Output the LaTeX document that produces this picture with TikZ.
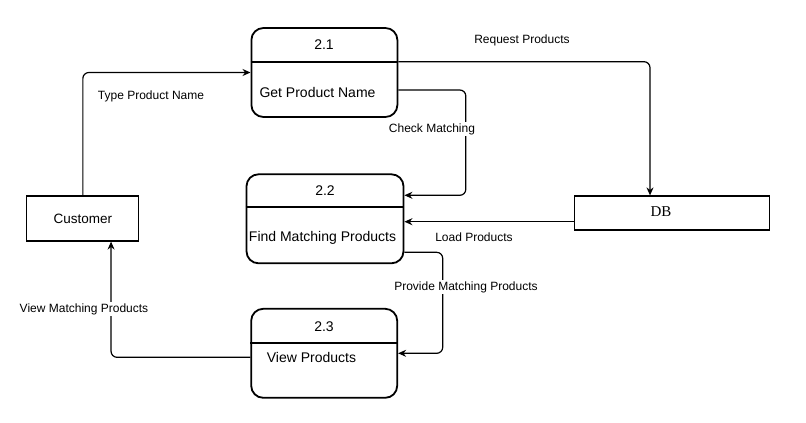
\documentclass[tikz,border=0pt]{standalone}
\usepackage{fontspec}
\setmainfont{Liberation Sans}
\newfontfamily\dbfont{Liberation Serif}
\usetikzlibrary{arrows.meta}

\begin{document}
\begin{tikzpicture}[x=1pt, y=-1pt, line width=1.2pt,
    proc/.style={draw, line width=1.8pt, rounded corners=12pt, inner sep=0pt},
    ext/.style={draw, line width=1.2pt, inner sep=0pt},
    txt/.style={inner sep=0pt, font=\fontsize{14}{16}\selectfont},
    lbl/.style={inner sep=1pt, fill=white, font=\fontsize{12}{14}\selectfont},
    flow/.style={-{Stealth[length=8pt,width=7pt]}, rounded corners=6pt}]
    \useasboundingbox (0,0) rectangle (806,423);
    % processes
    \node[proc, minimum width=146pt, minimum height=89pt] (p21) at (324.4,72.5) {};
    \node[proc, minimum width=157pt, minimum height=89pt] (p22) at (325,218.8) {};
    \node[proc, minimum width=146pt, minimum height=89pt] (p23) at (324.2,353.3) {};
    \draw[line width=1.8pt] (p21.west |- 0,61.7) -- (p21.east |- 0,61.7);
    \draw[line width=1.8pt] (p22.west |- 0,207) -- (p22.east |- 0,207);
    \draw[line width=1.8pt] (p23.west |- 0,343) -- (p23.east |- 0,343);
    \node[txt] (n21) at (324,45) {2.1};
    \node[txt] (t21) at (317.5,92) {Get Product Name};
    \node[txt] (n22) at (325,191) {2.2};
    \node[txt] (t22) at (322.5,238) {Find Matching Products};
    \node[txt] (n23) at (324,327) {2.3};
    \node[txt] (t23) at (311.5,357) {View Products};
    % external entities
    \node[ext, minimum width=112pt, minimum height=45pt, font=\fontsize{13.5}{16}\selectfont] (cust) at (82.85,218.5) {Customer};
    \node[ext, minimum width=195pt, minimum height=34pt] (db) at (671.7,213) {};
    \node[inner sep=0pt, font=\dbfont\fontsize{15}{18}\selectfont] (dbtxt) at (661,212) {DB};
    % flows
    \draw[flow] (cust) |- (p21);
    \draw[flow] ([yshift=10.8pt]p21.east) -| ([xshift=-21.7pt]db.north);
    \draw[flow] ([yshift=-17.5pt]p21.east) -- ++(67.5,0) |- ([yshift=23.5pt]p22.east);
    \coordinate (dbout) at ([yshift=-8.7pt]db.west);
    \draw[flow] (dbout) -- (dbout -| p22.east);
    \draw[flow] ([yshift=-33.5pt]p22.east) -- ++(38.3,0) |- (p23.east);
    \draw[flow] ([yshift=-4pt]p23.west) -| ([xshift=28.2pt]cust.south);
    % flow labels
    \node[lbl] (l1) at (151,96) {Type Product Name};
    \node[lbl] (l2) at (522,40) {Request Products};
    \node[lbl] (l3) at (432,129) {Check Matching};
    \node[lbl] (l4) at (474,237) {Load Products};
    \node[lbl] (l5) at (466,287) {Provide Matching Products};
    \node[lbl] (l6) at (84,309) {View Matching Products};
\end{tikzpicture}
\end{document}
